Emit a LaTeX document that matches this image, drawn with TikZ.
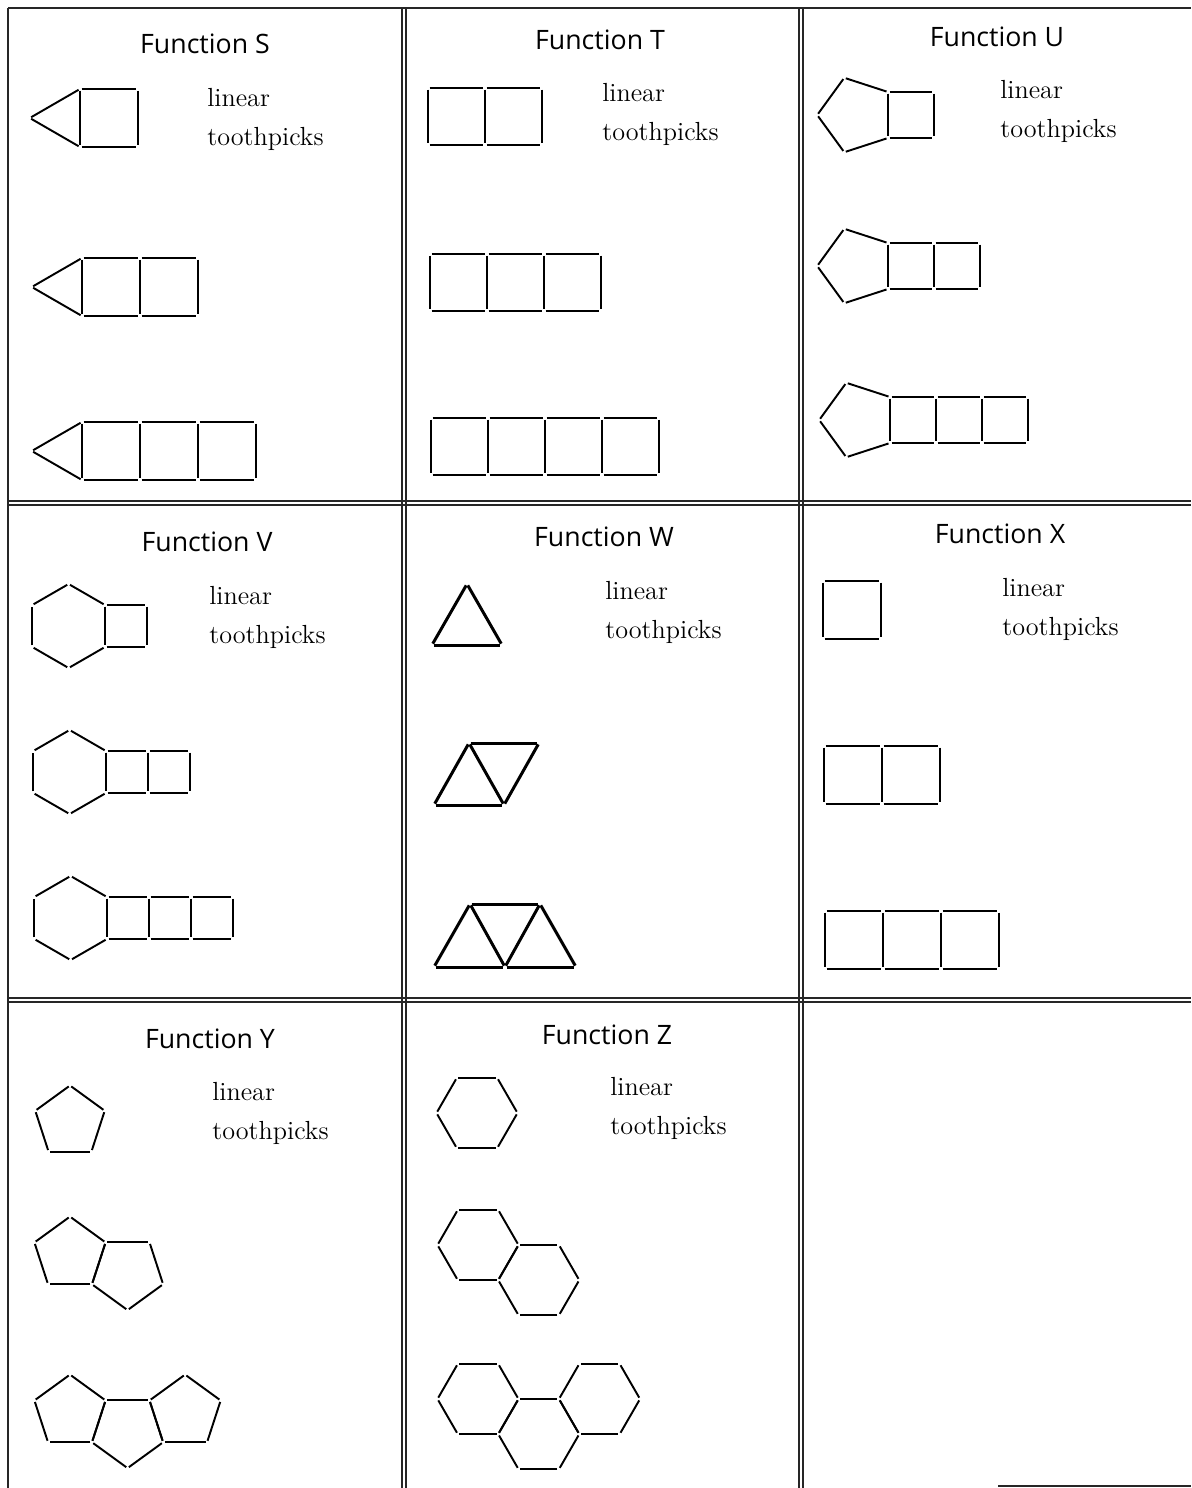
\documentclass[tikz,border=0pt]{standalone}
\usepackage{fontspec}
\newfontfamily\titlefont{Open Sans}
\usetikzlibrary{calc}

\tikzset{
  stick/.style={line width=1.1pt, shorten <=0.9pt, shorten >=0.9pt},
  thickstick/.style={stick, line width=1.7pt},
  frame/.style={line width=0.8pt, black!85},
  title/.style={font=\titlefont\fontsize{15.2}{17}\selectfont, inner sep=0pt},
  word/.style={font=\fontsize{14.9}{17}\selectfont, anchor=base west, inner sep=0pt},
}

% row of #4 squares, top left corner (#1,#2), side #3
\newcommand{\squares}[4]{
  \foreach \i in {1,...,#4}{
    \draw[stick] (#1+#3*\i-#3,#2) -- (#1+#3*\i,#2);
    \draw[stick] (#1+#3*\i-#3,#2+#3) -- (#1+#3*\i,#2+#3);
  }
  \foreach \i in {0,...,#4}{
    \draw[stick] (#1+#3*\i,#2) -- (#1+#3*\i,#2+#3);
  }
}
% regular polygon: centre (#1,#2), radius #3, #4 sides, first corner at angle #5
\newcommand{\ngon}[5]{
  \foreach \k in {1,...,#4}{
    \draw[stick] ($(#1,#2)+({#5+360/#4*(\k-1)}:#3)$) -- ($(#1,#2)+({#5+360/#4*\k}:#3)$);
  }
}

\begin{document}
\begin{tikzpicture}[x=0.02cm,y=-0.02cm]
\useasboundingbox (0,0) rectangle (1191,1488);

\draw[frame] (8,8) -- (1191,8);
\draw[frame] (8,8) -- (8,1488);
\foreach \x in {402,406,799,803}{
  \draw[frame] (\x,8) -- (\x,1488);
}
\foreach \y in {501,505,998,1002}{
  \draw[frame] (8,\y) -- (1191,\y);
}
\draw[frame] (998,1486) -- (1191,1486);

\foreach \f/\tx/\ty/\wx/\wy in {S/205/44/207/106, T/600/40/602/101, U/997/37/1000/98,
    V/207/542/209/604, W/604/537/605/599, X/1000/534/1002/596,
    Y/210/1039/212/1100, Z/607/1035/610/1095}{
  \node[title] (title\f) at (\tx,\ty) {Function \f};
  \node[word] (lin\f) at (\wx,\wy) {linear};
  \node[word] (pick\f) at (\wx,\wy+39) {toothpicks};
}

% S
\foreach \x/\y/\n in {80/89/1, 82/258/2, 82/422/3}{
  \squares{\x}{\y}{58}{\n}
  \draw[stick] (\x,\y) -- (\x-50.2,\y+29);
  \draw[stick] (\x-50.2,\y+29) -- (\x,\y+58);
}

% T
\squares{428}{88}{57}{2}
\squares{430}{254}{57}{3}
\squares{431}{418}{57}{4}

% U
\foreach \x/\y/\n in {888/92/1, 888/243/2, 890/397/3}{
  \squares{\x}{\y}{46}{\n}
  \ngon{\x-31.66}{\y+23}{39.13}{5}{180}
}

% V
\foreach \x/\y/\n in {105/605/1, 106/751/2, 107/897/3}{
  \squares{\x}{\y}{42}{\n}
  \ngon{\x-36.37}{\y+21}{42}{6}{30}
}

% W
\draw[thickstick] (432,645) -- (502,645);
\draw[thickstick] (432,645) -- (467,584);
\draw[thickstick] (467,584) -- (502,645);

\draw[thickstick] (434,805) -- (504,805);
\draw[thickstick] (434,805) -- (469,743);
\draw[thickstick] (469,743) -- (504,805);
\draw[thickstick] (469,743) -- (539,743);
\draw[thickstick] (539,743) -- (504,805);

\draw[thickstick] (434,967) -- (505,967);
\draw[thickstick] (505,967) -- (576,967);
\draw[thickstick] (470,904) -- (540,904);
\draw[thickstick] (434,967) -- (470,904);
\draw[thickstick] (470,904) -- (505,967);
\draw[thickstick] (505,967) -- (540,904);
\draw[thickstick] (540,904) -- (576,967);

% X
\squares{823}{581}{58}{1}
\squares{824}{746}{58}{2}
\squares{825}{911}{58}{3}

% Y
\ngon{70}{1122}{36.5}{5}{270}
\ngon{70}{1254}{37.4}{5}{270}
\ngon{127.55}{1272.7}{37.4}{5}{90}
\ngon{70}{1412}{37.4}{5}{270}
\ngon{127.55}{1430.7}{37.4}{5}{90}
\ngon{185.1}{1412}{37.4}{5}{270}

% Z
\ngon{477}{1113}{40.5}{6}{0}
\ngon{478}{1245}{40.5}{6}{0}
\ngon{538.75}{1280.1}{40.5}{6}{0}
\ngon{478}{1399}{40.5}{6}{0}
\ngon{538.75}{1434.1}{40.5}{6}{0}
\ngon{599.5}{1399}{40.5}{6}{0}
\end{tikzpicture}
\end{document}
